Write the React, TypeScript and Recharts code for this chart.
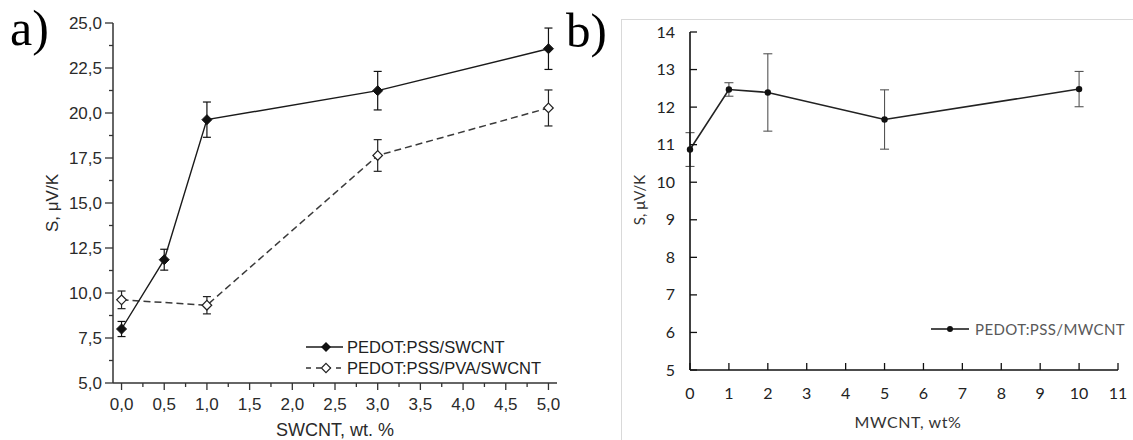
import React from 'react';
import { LineChart, Line, XAxis, YAxis, ErrorBar, Legend } from 'recharts';

// ---------- Panel a data ----------
const swcntX = [0, 0.5, 1, 3, 5];
const pedotSwcnt = [8.0, 11.85, 19.63, 21.24, 23.57];
const pedotSwcntErr = [0.42, 0.58, 0.98, 1.07, 1.15];

const pvaX = [0, 1, 3, 5];
const pedotPvaSwcnt = [9.62, 9.32, 17.64, 20.28];
const pedotPvaSwcntErr = [0.49, 0.48, 0.88, 1.0];

const aXTicks = [0, 0.25, 0.5, 0.75, 1, 1.25, 1.5, 1.75, 2, 2.25, 2.5, 2.75, 3, 3.25, 3.5, 3.75, 4, 4.25, 4.5, 4.75, 5];
const aYTicks = [5, 6.25, 7.5, 8.75, 10, 11.25, 12.5, 13.75, 15, 16.25, 17.5, 18.75, 20, 21.25, 22.5, 23.75, 25];
const aLegend = ['PEDOT:PSS/SWCNT', 'PEDOT:PSS/PVA/SWCNT'];

// ---------- Panel b data ----------
const mwcntX = [0, 1, 2, 5, 10];
const pedotMwcnt = [10.87, 12.47, 12.39, 11.67, 12.48];
const pedotMwcntErr = [0.45, 0.18, 1.03, 0.79, 0.47];

const bXTicks = [0, 1, 2, 3, 4, 5, 6, 7, 8, 9, 10, 11];
const bYTicks = [5, 6, 7, 8, 9, 10, 11, 12, 13, 14];
const bLegend = ['PEDOT:PSS/MWCNT'];

const dataA1 = swcntX.map((x, i) => ({ x, y: pedotSwcnt[i], e: pedotSwcntErr[i] }));
const dataA2 = pvaX.map((x, i) => ({ x, y: pedotPvaSwcnt[i], e: pedotPvaSwcntErr[i] }));
const dataB = mwcntX.map((x, i) => ({ x, y: pedotMwcnt[i], e: pedotMwcntErr[i] }));

const FONT_A = '"Liberation Sans", Arial, sans-serif';
const FONT_B = 'Lato, "Open Sans", sans-serif';
const FONT_SERIF = '"Liberation Serif", "Times New Roman", serif';

const fmtComma = (v: number) => v.toFixed(1).replace('.', ',');

const isMajorA = (v: number, step: number) => Math.abs(v / step - Math.round(v / step)) < 1e-6;

const ATickX = (props: any) => {
  const { x, y, payload } = props;
  const v = payload.value as number;
  const major = isMajorA(v, 0.5);
  return (
    <g>
      <line x1={x} y1={y} x2={x} y2={y + (major ? 7 : 4)} stroke="#333" strokeWidth={1.3} />
      {major && (
        <text x={x} y={y + 27} textAnchor="middle" fontFamily={FONT_A} fontSize={17} fill="#2a2a2a">
          {fmtComma(v)}
        </text>
      )}
    </g>
  );
};

const ATickY = (props: any) => {
  const { x, y, payload } = props;
  const v = payload.value as number;
  const major = isMajorA(v, 2.5);
  return (
    <g>
      <line x1={x} y1={y} x2={x - (major ? 8 : 4)} y2={y} stroke="#333" strokeWidth={1.3} />
      {major && (
        <text x={x - 11} y={y + 6} textAnchor="end" fontFamily={FONT_A} fontSize={17} fill="#2a2a2a">
          {fmtComma(v)}
        </text>
      )}
    </g>
  );
};

const BTickX = (props: any) => {
  const { x, y, payload } = props;
  return (
    <g>
      <line x1={x} y1={y} x2={x} y2={y - 7} stroke="#111" strokeWidth={1.3} />
      <text x={x} y={y + 29} textAnchor="middle" fontFamily={FONT_B} fontSize={16} fill="#222">
        {payload.value}
      </text>
    </g>
  );
};

const BTickY = (props: any) => {
  const { x, y, payload } = props;
  return (
    <g>
      <line x1={x} y1={y} x2={x + 7} y2={y} stroke="#111" strokeWidth={1.3} />
      <text x={x - 15} y={y + 5.5} textAnchor="end" fontFamily={FONT_B} fontSize={16} fill="#222">
        {payload.value}
      </text>
    </g>
  );
};

const diamondPath = (cx: number, cy: number, r: number) =>
  `M${cx},${cy - r}L${cx + r},${cy}L${cx},${cy + r}L${cx - r},${cy}Z`;

const FilledDiamond = (p: any) => (
  <path key={`fd-${p.index}`} d={diamondPath(p.cx, p.cy, 5)} fill="#111" stroke="#111" strokeWidth={1} />
);
const OpenDiamond = (p: any) => (
  <path key={`od-${p.index}`} d={diamondPath(p.cx, p.cy, 4.8)} fill="#fff" stroke="#222" strokeWidth={1.2} />
);
const SmallDot = (p: any) => <circle key={`sd-${p.index}`} cx={p.cx} cy={p.cy} r={3.2} fill="#111" />;

const LegendA = () => (
  <svg width={262} height={44} style={{ display: 'block', overflow: 'visible' }}>
    <line x1={6} y1={13} x2={43} y2={13} stroke="#1a1a1a" strokeWidth={1.4} />
    <path d={diamondPath(26, 13, 5)} fill="#111" />
    <text x={47} y={19} fontFamily={FONT_A} fontSize={16.5} fill="#222">{aLegend[0]}</text>
    <line x1={6} y1={34} x2={44} y2={34} stroke="#333" strokeWidth={1.4} strokeDasharray="5 5" />
    <path d={diamondPath(26, 34, 4.6)} fill="#fff" stroke="#222" strokeWidth={1.2} />
    <text x={47} y={40} fontFamily={FONT_A} fontSize={16.5} fill="#222">{aLegend[1]}</text>
  </svg>
);

const LegendB = () => (
  <svg width={200} height={20} style={{ display: 'block', overflow: 'visible' }}>
    <line x1={0} y1={10} x2={38} y2={10} stroke="#111" strokeWidth={1.5} />
    <circle cx={19} cy={10} r={3} fill="#111" />
    <text x={44} y={15.5} fontFamily={FONT_B} fontSize={15} fill="#595959" letterSpacing={0.4}>{bLegend[0]}</text>
  </svg>
);

const ChartA = () => (
  <LineChart width={560} height={440} margin={{ top: 23, right: 3, bottom: 27, left: 53 }}>
    <XAxis
      xAxisId="b"
      dataKey="x"
      type="number"
      domain={[-0.1, 5.1]}
      ticks={aXTicks}
      interval={0}
      tickSize={0}
      tickMargin={0}
      tickLine={false}
      tick={<ATickX />}
      axisLine={{ stroke: '#333', strokeWidth: 1.5 }}
      height={30}
    />
    <XAxis xAxisId="t" orientation="top" type="number" domain={[-0.1, 5.1]} tick={false} tickLine={false} height={0} axisLine={{ stroke: '#333', strokeWidth: 1.5 }} />
    <YAxis
      yAxisId="l"
      type="number"
      domain={[5, 25]}
      ticks={aYTicks}
      interval={0}
      tickSize={0}
      tickMargin={0}
      tickLine={false}
      tick={<ATickY />}
      axisLine={{ stroke: '#333', strokeWidth: 1.5 }}
      width={60}
    />
    <YAxis yAxisId="r" orientation="right" type="number" domain={[5, 25]} tick={false} tickLine={false} width={0} axisLine={{ stroke: '#333', strokeWidth: 1.5 }} />
    <Line
      xAxisId="b"
      yAxisId="l"
      data={dataA2}
      dataKey="y"
      name={aLegend[1]}
      stroke="#3a3a3a"
      strokeWidth={1.5}
      strokeDasharray="7 4"
      dot={OpenDiamond}
      activeDot={false}
      isAnimationActive={false}
    >
      <ErrorBar dataKey="e" width={4} stroke="#222" strokeWidth={1.2} direction="y" />
    </Line>
    <Line
      xAxisId="b"
      yAxisId="l"
      data={dataA1}
      dataKey="y"
      name={aLegend[0]}
      stroke="#1a1a1a"
      strokeWidth={1.4}
      dot={FilledDiamond}
      activeDot={false}
      isAnimationActive={false}
    >
      <ErrorBar dataKey="e" width={4} stroke="#111" strokeWidth={1.2} direction="y" />
    </Line>
    <Legend
      layout="vertical"
      align="center"
      verticalAlign="middle"
      content={() => <LegendA />}
      wrapperStyle={{ position: 'absolute', left: 300, top: 334, width: 262, height: 44 }}
    />
  </LineChart>
);

const ChartB = () => (
  <LineChart width={573} height={440} margin={{ top: 32, right: 15, bottom: 40, left: 70 }}>
    <XAxis
      dataKey="x"
      type="number"
      domain={[0, 11]}
      ticks={bXTicks}
      interval={0}
      tickSize={0}
      tickMargin={0}
      tickLine={false}
      tick={<BTickX />}
      axisLine={{ stroke: '#111', strokeWidth: 1.6 }}
      height={30}
    />
    <YAxis
      type="number"
      domain={[5, 14]}
      ticks={bYTicks}
      interval={0}
      tickSize={0}
      tickMargin={0}
      tickLine={false}
      tick={<BTickY />}
      axisLine={{ stroke: '#111', strokeWidth: 1.6 }}
      width={60}
    />
    <Line
      data={dataB}
      dataKey="y"
      name={bLegend[0]}
      stroke="#222"
      strokeWidth={1.6}
      dot={SmallDot}
      activeDot={false}
      isAnimationActive={false}
    >
      <ErrorBar dataKey="e" width={4.5} stroke="#555" strokeWidth={1.1} direction="y" />
    </Line>
    <Legend
      layout="vertical"
      align="center"
      verticalAlign="middle"
      content={() => <LegendB />}
      wrapperStyle={{ position: 'absolute', left: 371, top: 319, width: 200, height: 20 }}
    />
  </LineChart>
);

export default function App() {
  return (
    <div style={{ position: 'absolute', left: 0, top: 0, width: 1133, height: 440, background: '#fff', overflow: 'hidden' }}>
      <svg width={1133} height={440} style={{ position: 'absolute', left: 0, top: 0 }}>
        <rect x={621.5} y={19.5} width={600} height={500} fill="none" stroke="#d9d9d9" strokeWidth={1} />
      </svg>
      <div style={{ position: 'absolute', left: 0, top: 0 }}>
        <ChartA />
      </div>
      <div style={{ position: 'absolute', left: 560, top: 0 }}>
        <ChartB />
      </div>
      <svg width={1133} height={440} style={{ position: 'absolute', left: 0, top: 0, pointerEvents: 'none' }}>
        <text x={10} y={45} fontFamily={FONT_SERIF} fontSize={50} fill="#000">a)</text>
        <text x={566} y={47} fontFamily={FONT_SERIF} fontSize={49} fill="#000">b)</text>
        <text x={335} y={436} textAnchor="middle" fontFamily={FONT_A} fontSize={18} fill="#2a2a2a">SWCNT, wt. %</text>
        <text transform="translate(58,203) rotate(-90)" textAnchor="middle" fontFamily={FONT_A} fontSize={17} fill="#2a2a2a">S, μV/K</text>
        <text x={908} y={428} textAnchor="middle" fontFamily={FONT_B} fontSize={16} fill="#333" letterSpacing={0.6}>MWCNT, wt%</text>
        <text transform="translate(645,200) rotate(-90)" textAnchor="middle" fontFamily={FONT_B} fontSize={15} fill="#333">S, μV/K</text>
      </svg>
    </div>
  );
}
